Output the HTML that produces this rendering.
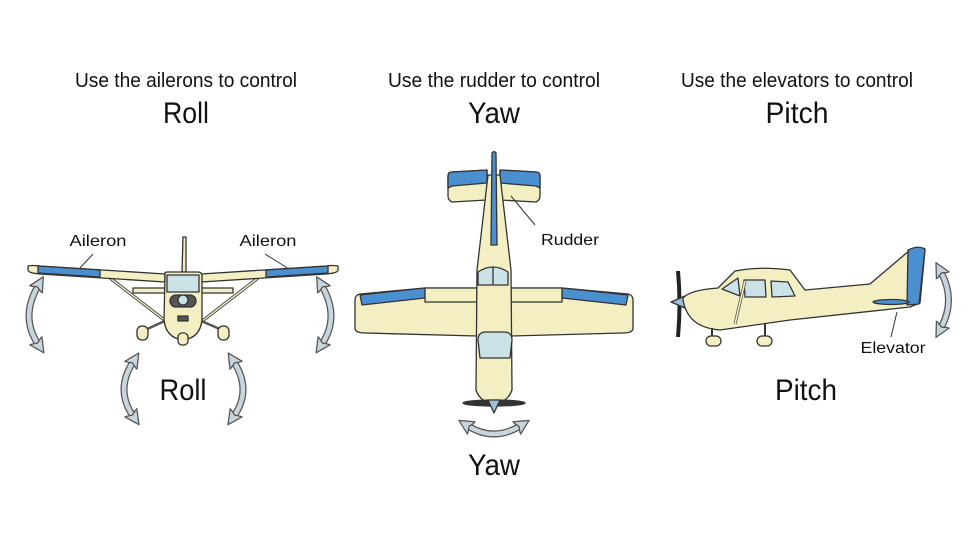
<!DOCTYPE html>
<html><head><meta charset="utf-8"><style>
html,body{margin:0;padding:0;background:#fff;}
svg{display:block;}
text{font-family:"Liberation Sans",sans-serif;fill:#111;}
</style></head><body>
<svg width="976" height="542" viewBox="0 0 976 542" xmlns="http://www.w3.org/2000/svg">
<defs>
<marker id="ah" markerUnits="userSpaceOnUse" markerWidth="17" markerHeight="17" refX="4" refY="8" orient="auto-start-reverse" viewBox="0 0 16 16">
<path d="M0,1 L14,8 L0,15 L3,8 Z" fill="#c9d5dd" stroke="#555" stroke-width="1.2" stroke-linejoin="round"/>
</marker>
</defs>
<g text-anchor="middle">
<text x="186" y="87" font-size="20" textLength="222" lengthAdjust="spacingAndGlyphs">Use the ailerons to control</text>
<text x="186" y="123" font-size="30" textLength="46" lengthAdjust="spacingAndGlyphs">Roll</text>
<text x="494" y="87" font-size="20" textLength="212" lengthAdjust="spacingAndGlyphs">Use the rudder to control</text>
<text x="494" y="123" font-size="30" textLength="52" lengthAdjust="spacingAndGlyphs">Yaw</text>
<text x="797" y="87" font-size="20" textLength="232" lengthAdjust="spacingAndGlyphs">Use the elevators to control</text>
<text x="797" y="123" font-size="30" textLength="63" lengthAdjust="spacingAndGlyphs">Pitch</text>
<text x="183" y="400" font-size="30" textLength="47" lengthAdjust="spacingAndGlyphs">Roll</text>
<text x="494" y="475" font-size="30" textLength="52" lengthAdjust="spacingAndGlyphs">Yaw</text>
<text x="806" y="400" font-size="30" textLength="62" lengthAdjust="spacingAndGlyphs">Pitch</text>
<text x="98" y="246" font-size="16" textLength="57" lengthAdjust="spacingAndGlyphs">Aileron</text>
<text x="268" y="246" font-size="16" textLength="57" lengthAdjust="spacingAndGlyphs">Aileron</text>
<text x="570" y="245" font-size="16" textLength="58" lengthAdjust="spacingAndGlyphs">Rudder</text>
<text x="893" y="353" font-size="16" textLength="65" lengthAdjust="spacingAndGlyphs">Elevator</text>
</g>

<g fill="none" stroke-linecap="butt">
<g stroke="#555" stroke-width="7">
<path d="M38,286 Q20,317 38,344"/><path d="M322,286 Q340,317 322,344"/>
<path d="M133,362 Q115,390 133,416"/><path d="M234,362 Q252,390 234,416"/>
<path d="M468,426 Q494,442 520,426"/><path d="M941,272 Q956,300 941,328"/>
</g>
<g stroke="#c9d5dd" stroke-width="4.5" marker-start="url(#ah)" marker-end="url(#ah)">
<path d="M38,286 Q20,317 38,344"/><path d="M322,286 Q340,317 322,344"/>
<path d="M133,362 Q115,390 133,416"/><path d="M234,362 Q252,390 234,416"/>
<path d="M468,426 Q494,442 520,426"/><path d="M941,272 Q956,300 941,328"/>
</g>
</g>

<g stroke="#333" stroke-width="1.3" stroke-linejoin="round">
<path d="M182,272 L183,237 L186,237 L186,272 Z" fill="#f4efc2"/>
<path d="M133,288 L233,288 L233,293 L133,293 Z" fill="#f4efc2"/>
<path d="M110,278 L167,322 M258,278 L201,322" stroke="#444" stroke-width="3.2"/>
<path d="M110,278 L167,322 M258,278 L201,322" stroke="#f4efc2" stroke-width="1.4"/>
<path d="M28,266 Q32,265 40,266 L165,274 L165,282 L40,274 Q28,273 28,270 Z" fill="#f4efc2"/>
<path d="M38,266 L100,270 L100,277 L38,273 Z" fill="#4a8fd0"/>
<path d="M338,266 Q334,265 326,266 L201,274 L201,282 L326,274 Q338,273 338,270 Z" fill="#f4efc2"/>
<path d="M328,266 L266,270 L266,277 L328,273 Z" fill="#4a8fd0"/>
<path d="M167,320 L145,330 M199,320 L222,330 M183,335 L183,340" stroke="#555" stroke-width="2.5"/>
<path d="M165,274 Q164,272 168,272 L198,272 Q202,272 202,276 L202,320 Q200,338 183,340 Q166,338 164,320 Z" fill="#f4efc2"/>
<path d="M167,275 L199,275 L199,292 L167,292 Z" fill="#cbe2e6"/>
<rect x="170" y="295" width="26" height="12" rx="6" fill="#555"/>
<circle cx="183" cy="300" r="5" fill="#cbe2e6"/>
<rect x="178" y="316" width="10" height="5" fill="#555"/>
<rect x="137" y="326" width="11" height="14" rx="5" fill="#f4efc2"/>
<rect x="218" y="326" width="11" height="14" rx="5" fill="#f4efc2"/>
<rect x="178" y="333" width="10" height="12" rx="4" fill="#f4efc2"/>
<path d="M93,254 L80,268 M265,254 L289,269" stroke-width="1"/>
</g>

<g stroke="#333" stroke-width="1.3" stroke-linejoin="round">
<path d="M448,176 Q448,172 452,172 L487,170 L487,200 L452,202 Q448,200 448,196 Z" fill="#f4efc2"/>
<path d="M448,176 Q448,172 452,172 L487,170 L487,183 L452,186 L448,188 Z" fill="#4a8fd0"/>
<path d="M540,176 Q540,172 536,172 L500,170 L500,200 L536,202 Q540,200 540,196 Z" fill="#f4efc2"/>
<path d="M540,176 Q540,172 536,172 L500,170 L500,183 L536,186 L540,188 Z" fill="#4a8fd0"/>
<path d="M355,300 Q355,295 360,294 L425,288 L477,288 L477,336 L365,333 Q355,333 355,328 Z" fill="#f4efc2"/>
<path d="M360,295 L425,288 L425,298 L362,305 Z" fill="#4a8fd0"/>
<path d="M425,288 L477,288 L477,302 L425,302 Z" fill="#f4efc2"/>
<path d="M633,300 Q633,295 628,294 L562,288 L511,288 L511,336 L623,333 Q633,333 633,328 Z" fill="#f4efc2"/>
<path d="M628,295 L562,288 L562,298 L626,305 Z" fill="#4a8fd0"/>
<path d="M562,288 L511,288 L511,302 L562,302 Z" fill="#f4efc2"/>
<path d="M488,175 L500,175 L511,270 L512,390 Q508,402 494,404 Q480,402 476,390 L477,270 Z" fill="#f4efc2"/>
<path d="M492,153 Q494,150 496,153 L497,245 L491,245 Z" fill="#4a8fd0"/>
<path d="M478,272 Q493,262 508,272 L508,285 L478,285 Z" fill="#cbe2e6"/>
<path d="M493,267 L493,285" />
<path d="M478,340 Q478,332 486,332 L504,332 Q512,332 512,340 L510,358 L480,358 Z" fill="#cbe2e6"/>
<ellipse cx="494" cy="403" rx="31" ry="3" fill="#333"/>
<path d="M488,400 L500,400 L494,413 Z" fill="#9cc0d8"/>
<path d="M511,196 L535,225" stroke-width="1"/>
</g>

<g stroke="#333" stroke-width="1.3" stroke-linejoin="round">
<path d="M678,271 Q681,303 678,337" stroke="#222" stroke-width="4" fill="none"/>
<path d="M671,302 L685,296 L685,308 Z" fill="#9cc0d8"/>
<path d="M683,298 Q690,290 718,288 L735,271 Q760,266 790,270 L805,290 L870,284 L910,250 Q918,246 925,250 L920,303 L910,307 L790,320 L720,330 Q695,328 687,312 Q683,304 683,298 Z" fill="#f4efc2"/>
<path d="M908,250 Q918,245 925,249 L919,304 L907,305 Z" fill="#4a8fd0"/>
<path d="M722,289 L738,278 L740,296 Z" fill="#cbe2e6"/>
<path d="M744,280 L765,280 L766,297 L745,297 Z" fill="#cbe2e6"/>
<path d="M771,281 L788,282 L795,296 L772,297 Z" fill="#cbe2e6"/>
<path d="M745,281 L735,324" stroke="#555" stroke-width="3"/>
<path d="M745,281 L735,324" stroke="#f4efc2" stroke-width="1.5"/>
<ellipse cx="891" cy="302" rx="18" ry="2.5" fill="#4a8fd0"/>
<rect x="706" y="336" width="15" height="10" rx="5" fill="#f4efc2"/>
<rect x="757" y="336" width="15" height="10" rx="5" fill="#f4efc2"/>
<path d="M712,328 L712,336 M765,323 L765,336" stroke-width="2"/>
<path d="M897,312 L891,337" stroke-width="1"/>
</g>
</svg>
</body></html>
